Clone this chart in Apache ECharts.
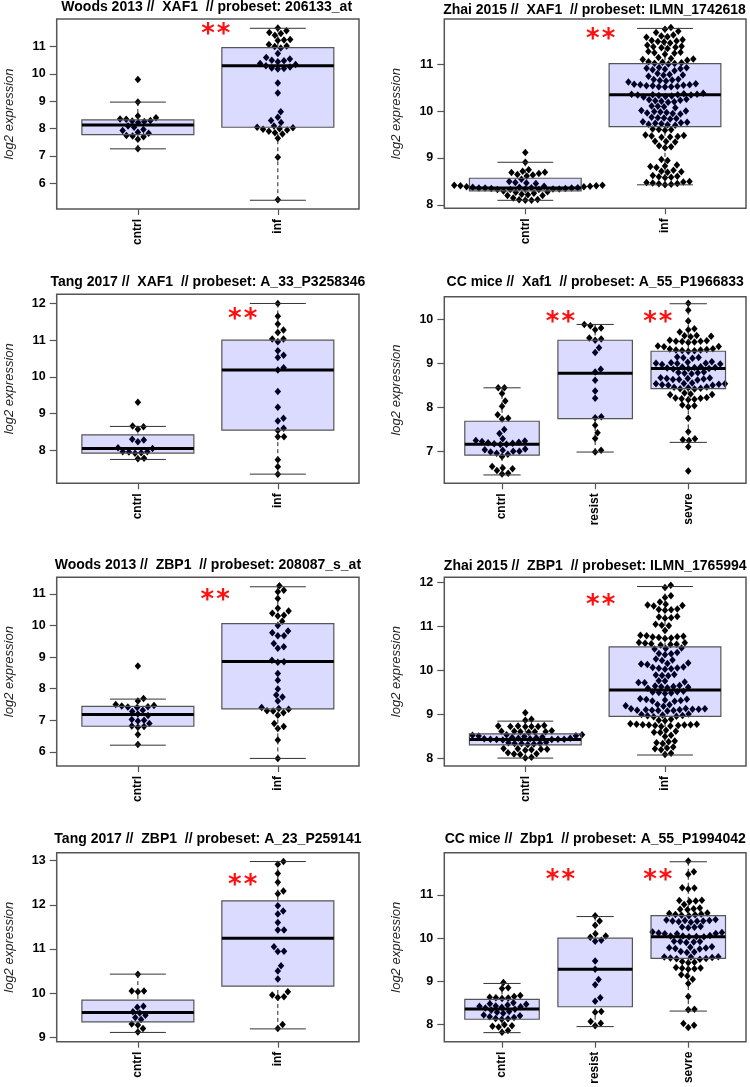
<!DOCTYPE html>
<html><head><meta charset="utf-8">
<script src="https://cdn.jsdelivr.net/npm/echarts@6/dist/echarts.min.js"></script>
<style>html,body{margin:0;padding:0;background:#fff}#c{width:750px;height:1087px}</style>
</head><body><div id="c"></div>
<script>
// ---------------- DATA ----------------
const titles = [
  'Woods 2013 //  XAF1  // probeset: 206133_at',
  'Zhai 2015 //  XAF1  // probeset: ILMN_1742618',
  'Tang 2017 //  XAF1  // probeset: A_33_P3258346',
  'CC mice //  Xaf1  // probeset: A_55_P1966833',
  'Woods 2013 //  ZBP1  // probeset: 208087_s_at',
  'Zhai 2015 //  ZBP1  // probeset: ILMN_1765994',
  'Tang 2017 //  ZBP1  // probeset: A_23_P259141',
  'CC mice //  Zbp1  // probeset: A_55_P1994042'
];
const catsHuman = ['cntrl', 'inf'];
const catsMice = ['cntrl', 'resist', 'sevre'];
const yAxisName = 'log2 expression';
const starText = '**';

// Woods 2013 XAF1
const woodsXaf1Cntrl = [9.80, 8.97, 8.46, 8.40, 8.35, 8.34, 8.30, 8.28, 8.26, 8.22, 8.10, 8.05, 7.97, 7.93, 7.87, 7.83, 7.75, 7.73, 7.70, 7.61, 7.26];
const woodsXaf1Inf = [11.68, 11.58, 11.52, 11.48, 11.42, 11.26, 11.24, 11.22, 11.08, 11.02, 11.00, 10.95, 10.75, 10.60, 10.55, 10.50, 10.48, 10.45, 10.38, 10.35, 10.30, 10.25, 10.22, 10.20, 10.18, 9.67, 9.30, 8.62, 8.42, 8.30, 8.22, 8.10, 8.05, 8.03, 8.00, 7.98, 7.95, 7.90, 7.85, 7.80, 7.65, 6.95, 5.40];
const woodsXaf1Box = [[7.26, 7.78, 8.135, 8.32, 8.97], [5.38, 8.05, 10.30, 10.96, 11.67]];
const woodsXaf1Range = [5.06, 12.01];
const woodsXaf1Ticks = [6, 7, 8, 9, 10, 11];
const woodsXaf1Stars = [[1.557, 11.58]];

// Zhai 2015 XAF1
const zhaiXaf1Cntrl = [9.12, 8.91,
  8.75, 8.72, 8.70, 8.69, 8.67, 8.65, 8.64, 8.62,
  8.55, 8.50, 8.48, 8.47, 8.46,
  8.42, 8.42, 8.41, 8.41, 8.40, 8.40, 8.39, 8.39, 8.38, 8.38, 8.37, 8.37, 8.36, 8.36, 8.36, 8.35, 8.35, 8.34, 8.34, 8.34, 8.33, 8.33, 8.33,
  8.30, 8.28, 8.27, 8.25, 8.23, 8.22, 8.20, 8.20,
  8.15, 8.12, 8.11, 8.10, 8.10];
const zhaiXaf1Inf = [11.78, 11.74, 11.70, 11.67, 11.62, 11.60, 11.58, 11.57,
  11.52, 11.50, 11.49, 11.48, 11.47, 11.45, 11.40, 11.38, 11.37, 11.36, 11.35, 11.33,
  11.27, 11.25, 11.24, 11.23, 11.21, 11.14, 11.12, 11.11, 11.10, 11.08,
  11.05, 11.04, 11.03, 11.02, 11.01, 11.00, 10.93, 10.92, 10.91, 10.90, 10.89, 10.88, 10.86,
  10.80, 10.78, 10.77, 10.76, 10.74, 10.68, 10.67, 10.66, 10.65, 10.64, 10.62,
  10.58, 10.57, 10.56, 10.56, 10.55, 10.54, 10.54, 10.53, 10.52, 10.52, 10.51,
  10.38, 10.37, 10.36, 10.36, 10.35, 10.35, 10.34, 10.34, 10.33, 10.32, 10.31, 10.30,
  10.25, 10.24, 10.23, 10.22, 10.21, 10.20, 10.19, 10.11, 10.10, 10.09, 10.07,
  10.01, 10.00, 9.99, 9.98, 9.97, 9.96, 9.95, 9.94, 9.87, 9.86, 9.85, 9.84, 9.83,
  9.77, 9.76, 9.75, 9.74, 9.73, 9.72, 9.71, 9.70, 9.62, 9.61, 9.60, 9.59,
  9.49, 9.48, 9.47, 9.46, 9.45, 9.44, 9.36, 9.35, 9.34, 9.26, 9.24, 9.22,
  8.97, 8.95, 8.85, 8.83, 8.82, 8.80, 8.74, 8.72, 8.71, 8.70,
  8.63, 8.61, 8.60, 8.59, 8.58, 8.50, 8.49, 8.48, 8.47, 8.46, 8.45, 8.44, 8.43];
const zhaiXaf1Box = [[8.10, 8.30, 8.36, 8.57, 8.91], [8.43, 9.67, 10.35, 11.01, 11.76]];
const zhaiXaf1Range = [7.93, 11.96];
const zhaiXaf1Ticks = [8, 9, 10, 11];
const zhaiXaf1Stars = [[1.54, 11.6]];

// Tang 2017 XAF1
const tangXaf1Cntrl = [9.31, 8.66, 8.64, 8.57, 8.30, 8.28, 8.23, 8.07, 8.05, 7.96, 7.95, 7.96, 7.93, 7.92, 7.78, 7.77];
const tangXaf1Inf = [12.00, 11.65, 11.44, 11.28, 11.21, 11.03, 11.03, 10.96, 10.71, 10.53, 10.59, 10.25, 10.19, 9.60, 9.17, 8.87, 8.80, 8.60, 8.54, 8.37, 8.37, 7.74, 7.55, 7.35];
const tangXaf1Box = [[7.75, 7.92, 8.05, 8.42, 8.65], [7.35, 8.55, 10.19, 11.00, 12.00]];
const tangXaf1Range = [7.10, 12.25];
const tangXaf1Ticks = [8, 9, 10, 11, 12];
const tangXaf1Stars = [[1.749, 11.66]];

// CC mice Xaf1
const ccXaf1Cntrl = [8.44, 8.44, 8.31, 8.14, 8.02, 7.83, 7.75, 7.73, 7.49, 7.40, 7.28, 7.24, 7.23, 7.22, 7.20, 7.19, 7.18, 7.17, 7.16, 7.15, 7.05, 7.03, 7.02, 7.00, 7.00, 6.98, 6.95, 6.93, 6.88, 6.65, 6.62, 6.60, 6.56, 6.50, 6.48];
const ccXaf1Resist = [9.88, 9.85, 9.80, 9.76, 9.57, 9.55, 9.52, 9.35, 9.24, 8.86, 8.80, 8.61, 8.37, 8.20, 7.78, 7.76, 7.59, 7.42, 7.29, 7.02, 6.98];
const ccXaf1Sevre = [10.36, 10.20, 9.96, 9.78, 9.76, 9.71, 9.63, 9.62, 9.61, 9.60,
  9.52, 9.51, 9.50, 9.50, 9.49, 9.48, 9.47, 9.39, 9.38, 9.37,
  9.33, 9.32, 9.31, 9.30, 9.30, 9.29, 9.28, 9.27, 9.14, 9.13, 9.12, 9.11,
  9.03, 9.02, 9.01, 9.00, 9.00, 8.99, 8.98, 8.97, 8.92, 8.91, 8.90, 8.90, 8.89, 8.88, 8.88, 8.87,
  8.80, 8.79, 8.78, 8.77, 8.76, 8.67, 8.66, 8.65, 8.65, 8.64, 8.63, 8.63, 8.62,
  8.55, 8.54, 8.53, 8.53, 8.52, 8.51, 8.50, 8.50, 8.46, 8.45, 8.44, 8.43, 8.42, 8.41,
  8.32, 8.30, 8.29, 8.28, 8.22, 8.21, 8.20, 8.19, 8.18, 8.17, 8.05, 8.03, 8.01,
  7.75, 7.44, 7.28, 7.26, 7.24, 7.10, 6.55];
const ccXaf1Box = [[6.46, 6.91, 7.16, 7.68, 8.44], [6.98, 7.74, 8.77, 9.52, 9.88], [7.20, 8.42, 8.88, 9.27, 10.35]];
const ccXaf1Range = [6.27, 10.51];
const ccXaf1Ticks = [7, 8, 9, 10];
const ccXaf1Stars = [[1.628, 10.0], [2.673, 10.0]];

// Woods 2013 ZBP1
const woodsZbp1Cntrl = [8.72, 7.69, 7.61, 7.50, 7.47, 7.45, 7.43, 7.42, 7.40, 7.32, 7.28, 7.20, 7.15, 7.02, 7.00, 6.98, 6.90, 6.82, 6.80, 6.78, 6.55, 6.23];
const woodsZbp1Inf = [11.26, 11.12, 11.07, 10.86, 10.55, 10.46, 10.39, 10.33, 10.30, 10.14, 10.00, 9.83, 9.77, 9.68, 9.68, 9.43, 9.33, 9.28, 8.90, 8.85, 8.84, 8.48, 8.27, 7.99, 7.80, 7.74, 7.61, 7.40, 7.37, 7.35, 7.30, 7.29, 7.24, 7.16, 6.90, 6.80, 6.74, 6.37, 5.79];
const woodsZbp1Box = [[6.21, 6.81, 7.18, 7.44, 7.67], [5.79, 7.36, 8.86, 10.06, 11.23]];
const woodsZbp1Range = [5.55, 11.53];
const woodsZbp1Ticks = [6, 7, 8, 9, 10, 11];
const woodsZbp1Stars = [[1.552, 10.91]];

// Zhai 2015 ZBP1
const zhaiZbp1Cntrl = [9.03, 8.88, 8.86,
  8.74, 8.73, 8.72, 8.72, 8.71, 8.72, 8.73,
  8.62, 8.61, 8.60, 8.60, 8.59, 8.60, 8.61,
  8.53, 8.53, 8.52, 8.51, 8.50, 8.49, 8.48, 8.47, 8.46, 8.45, 8.45, 8.44, 8.44, 8.43, 8.43, 8.43, 8.42, 8.42, 8.41,
  8.36, 8.35, 8.34, 8.33, 8.33, 8.32, 8.31,
  8.22, 8.21, 8.20, 8.20, 8.19, 8.18,
  8.12, 8.10, 8.09, 8.08, 8.02, 8.00];
const zhaiZbp1Inf = [11.93, 11.88, 11.69, 11.65, 11.55, 11.50, 11.48, 11.47, 11.46, 11.39, 11.38, 11.37, 11.36,
  11.22, 11.21, 11.19, 11.18, 11.04, 11.02, 11.01, 10.90,
  10.79, 10.78, 10.77, 10.76, 10.75, 10.74, 10.73, 10.72, 10.63, 10.62, 10.61, 10.60, 10.59, 10.58, 10.57,
  10.50, 10.49, 10.48, 10.40, 10.38, 10.37, 10.35, 10.25, 10.23, 10.22, 10.16, 10.15, 10.14, 10.13,
  10.07, 10.06, 10.05, 10.04, 10.03, 10.02, 9.90, 9.89, 9.88, 9.87, 9.76, 9.75, 9.73, 9.72, 9.71,
  9.65, 9.64, 9.63, 9.62, 9.61, 9.60, 9.59, 9.52, 9.51, 9.50, 9.49, 9.48, 9.47,
  9.35, 9.34, 9.33, 9.32, 9.31, 9.30, 9.29, 9.22, 9.21, 9.19, 9.18,
  9.13, 9.12, 9.12, 9.11, 9.11, 9.10, 9.10, 9.09, 9.09, 9.08, 9.08, 9.07,
  9.00, 8.99, 8.98, 8.97, 8.96, 8.95, 8.94, 8.88, 8.86, 8.85,
  8.78, 8.77, 8.77, 8.76, 8.76, 8.75, 8.75, 8.74, 8.74, 8.73, 8.72,
  8.63, 8.61, 8.59, 8.58, 8.52, 8.49, 8.39, 8.37, 8.35, 8.33, 8.25, 8.23, 8.21, 8.19, 8.11, 8.08];
const zhaiZbp1Box = [[8.00, 8.30, 8.42, 8.55, 8.84], [8.07, 8.95, 9.55, 10.53, 11.90]];
const zhaiZbp1Range = [7.82, 12.11];
const zhaiZbp1Ticks = [8, 9, 10, 11, 12];
const zhaiZbp1Stars = [[1.54, 11.54]];

// Tang 2017 ZBP1
const tangZbp1Cntrl = [10.43, 10.05, 10.03, 10.05, 9.70, 9.68, 9.58, 9.55, 9.50, 9.45, 9.40, 9.30, 9.28, 9.20, 9.12];
const tangZbp1Inf = [12.98, 12.92, 12.71, 12.51, 12.31, 12.25, 11.98, 11.86, 11.79, 11.60, 11.43, 11.43, 11.05, 10.95, 10.94, 10.62, 10.50, 10.32, 10.03, 9.96, 9.92, 9.90, 9.29, 9.20];
const tangZbp1Box = [[9.11, 9.35, 9.56, 9.84, 10.43], [9.19, 10.16, 11.24, 12.09, 12.98]];
const tangZbp1Range = [8.90, 13.18];
const tangZbp1Ticks = [9, 10, 11, 12, 13];
const tangZbp1Stars = [[1.749, 12.52]];

// CC mice Zbp1
const ccZbp1Cntrl = [8.97, 8.85, 8.83, 8.67, 8.65, 8.63, 8.62, 8.61, 8.60,
  8.50, 8.48, 8.47, 8.45, 8.43, 8.42, 8.41, 8.40, 8.38, 8.35, 8.33, 8.30, 8.28, 8.26,
  8.22, 8.20, 8.18, 8.16, 8.14, 8.13, 8.12, 7.99, 7.97, 7.96, 7.94, 7.86, 7.82];
const ccZbp1Resist = [10.52, 10.40, 10.30, 10.10, 10.05, 10.02, 9.95, 9.93, 9.47, 9.28, 9.04, 8.92, 8.62, 8.54, 8.30, 8.28, 8.07, 8.03, 7.97];
const ccZbp1Sevre = [11.79, 11.54, 11.48, 11.17, 11.16, 11.14, 10.88, 10.87, 10.86, 10.85, 10.78,
  10.70, 10.68, 10.67, 10.66, 10.58, 10.57, 10.56, 10.55, 10.54, 10.53, 10.52,
  10.43, 10.42, 10.41, 10.41, 10.40, 10.40, 10.39, 10.38, 10.37, 10.27, 10.26, 10.25, 10.24,
  10.14, 10.13, 10.12, 10.11, 10.10, 10.10, 10.06, 10.05, 10.05, 10.04, 10.03, 10.03,
  9.93, 9.92, 9.92, 9.91, 9.90, 9.80, 9.79, 9.78, 9.77, 9.76, 9.75, 9.69, 9.68, 9.67,
  9.57, 9.56, 9.56, 9.55, 9.54, 9.53, 9.52, 9.51, 9.46, 9.44, 9.43,
  9.32, 9.31, 9.30, 9.29, 9.28, 9.15, 9.12, 9.05, 8.95, 8.65, 8.35, 8.34, 8.02, 7.98, 7.93];
const ccZbp1Box = [[7.81, 8.12, 8.36, 8.58, 8.95], [7.95, 8.41, 9.28, 10.00, 10.50], [8.31, 9.53, 10.03, 10.52, 11.77]];
const ccZbp1Range = [7.60, 11.98];
const ccZbp1Ticks = [8, 9, 10, 11];
const ccZbp1Stars = [[1.628, 11.42], [2.673, 11.42]];

// ---------------- LAYOUT / STYLE ----------------
const FONT = '"Liberation Sans", Arial, Helvetica, sans-serif';
const SWARM_D = 6.2; // beeswarm spacing in px
const gridRects = [
  [56.7, 19, 302.3, 190], [444.3, 19, 301.7, 189.3],
  [56.7, 294.3, 302.3, 189], [444.3, 296.7, 301.7, 186.6],
  [56.7, 577.3, 302.3, 188.7], [444.3, 577.3, 301.7, 188.7],
  [56.7, 852.7, 302.3, 189], [444.3, 852.7, 301.7, 189]
];
const titleCenters = [[206.7, 7], [594.5, 10], [207.9, 282], [595.2, 282.3], [207.9, 565.3], [595.2, 565.8], [207.9, 839.3], [595.2, 839.3]];

const panels = [
  {cats: catsHuman, groups: [woodsXaf1Cntrl, woodsXaf1Inf], box: woodsXaf1Box, range: woodsXaf1Range, ticks: woodsXaf1Ticks, stars: woodsXaf1Stars},
  {cats: catsHuman, groups: [zhaiXaf1Cntrl, zhaiXaf1Inf], box: zhaiXaf1Box, range: zhaiXaf1Range, ticks: zhaiXaf1Ticks, stars: zhaiXaf1Stars},
  {cats: catsHuman, groups: [tangXaf1Cntrl, tangXaf1Inf], box: tangXaf1Box, range: tangXaf1Range, ticks: tangXaf1Ticks, stars: tangXaf1Stars},
  {cats: catsMice, groups: [ccXaf1Cntrl, ccXaf1Resist, ccXaf1Sevre], box: ccXaf1Box, range: ccXaf1Range, ticks: ccXaf1Ticks, stars: ccXaf1Stars},
  {cats: catsHuman, groups: [woodsZbp1Cntrl, woodsZbp1Inf], box: woodsZbp1Box, range: woodsZbp1Range, ticks: woodsZbp1Ticks, stars: woodsZbp1Stars},
  {cats: catsHuman, groups: [zhaiZbp1Cntrl, zhaiZbp1Inf], box: zhaiZbp1Box, range: zhaiZbp1Range, ticks: zhaiZbp1Ticks, stars: zhaiZbp1Stars},
  {cats: catsHuman, groups: [tangZbp1Cntrl, tangZbp1Inf], box: tangZbp1Box, range: tangZbp1Range, ticks: tangZbp1Ticks, stars: tangZbp1Stars},
  {cats: catsMice, groups: [ccZbp1Cntrl, ccZbp1Resist, ccZbp1Sevre], box: ccZbp1Box, range: ccZbp1Range, ticks: ccZbp1Ticks, stars: ccZbp1Stars}
];

function renderBox(params, api) {
  const x = api.value(0);
  const p = [1, 2, 3, 4, 5].map(k => api.coord([x, api.value(k)]));
  const cx = p[0][0];
  const hw = api.coord([x + 0.4, api.value(1)])[0] - cx;
  const cw = hw * 0.5;
  const dash = {stroke: '#222', lineWidth: 1, lineDash: [4, 3]};
  const solid = {stroke: '#333', lineWidth: 1};
  return {type: 'group', children: [
    {type: 'line', shape: {x1: cx, y1: p[0][1], x2: cx, y2: p[1][1]}, style: dash},
    {type: 'line', shape: {x1: cx, y1: p[4][1], x2: cx, y2: p[3][1]}, style: dash},
    {type: 'line', shape: {x1: cx - cw, y1: p[0][1], x2: cx + cw, y2: p[0][1]}, style: solid},
    {type: 'line', shape: {x1: cx - cw, y1: p[4][1], x2: cx + cw, y2: p[4][1]}, style: solid},
    {type: 'rect', shape: {x: cx - hw, y: p[3][1], width: 2 * hw, height: p[1][1] - p[3][1]},
      style: {fill: 'rgba(0,0,255,0.14)', stroke: '#555', lineWidth: 1.2}},
    {type: 'line', shape: {x1: cx - hw, y1: p[2][1], x2: cx + hw, y2: p[2][1]}, style: {stroke: '#000', lineWidth: 3}}
  ]};
}
function renderStar(params, api) {
  const c = api.coord([api.value(0), api.value(1)]);
  return {type: 'text', x: c[0], y: c[1] + 4,
    style: {text: starText, fill: '#ff1010', font: 'bold 26px "DejaVu Sans Mono"', align: 'center', verticalAlign: 'middle'}};
}

const option = {
  animation: false,
  backgroundColor: '#fff',
  title: [], grid: [], xAxis: [], yAxis: [], series: []
};
panels.forEach((pn, g) => {
  const n = pn.cats.length;
  const r = gridRects[g];
  option.title.push({text: titles[g], left: titleCenters[g][0], top: titleCenters[g][1], padding: 0,
    textAlign: 'center', textVerticalAlign: 'middle',
    textStyle: {fontSize: 14, fontWeight: 'bold', color: '#000', fontFamily: FONT}});
  option.grid.push({left: r[0], top: r[1], width: r[2], height: r[3], show: true,
    borderColor: '#555', borderWidth: 1.5, backgroundColor: 'transparent'});
  const xs = pn.cats.map((c, i) => i + 1);
  option.xAxis.push({gridIndex: g, type: 'value', min: 0.5 - 0.04 * n, max: n + 0.5 + 0.04 * n,
    axisLine: {show: false, onZero: false}, splitLine: {show: false},
    axisTick: {show: true, customValues: xs, length: 6, lineStyle: {color: '#555', width: 1.2}},
    axisLabel: {customValues: xs, formatter: v => pn.cats[Math.round(v) - 1], rotate: 90, margin: 10,
      fontSize: 12, fontWeight: 'bold', color: '#000', fontFamily: FONT}});
  option.yAxis.push({gridIndex: g, type: 'value', min: pn.range[0], max: pn.range[1],
    axisLine: {show: false, onZero: false}, splitLine: {show: false},
    axisTick: {show: true, customValues: pn.ticks, length: 7, lineStyle: {color: '#555', width: 1.2}},
    axisLabel: {customValues: pn.ticks, margin: 11, fontSize: 12.5, fontWeight: 'bold', color: '#000', fontFamily: FONT},
    name: yAxisName, nameLocation: 'middle', nameGap: 41,
    nameTextStyle: {fontSize: 13, fontStyle: 'italic', color: '#222', fontFamily: FONT}});
  option.series.push({id: 'pts' + g, type: 'scatter', xAxisIndex: g, yAxisIndex: g, symbol: 'diamond',
    symbolSize: [6.5, 7.5], itemStyle: {color: '#000', opacity: 1}, silent: true, z: 2, data: []});
  option.series.push({type: 'custom', xAxisIndex: g, yAxisIndex: g, renderItem: renderBox, z: 3, silent: true,
    encode: {x: 0, y: [1, 2, 3, 4, 5]},
    data: pn.box.map((b, i) => [i + 1].concat(b))});
  option.series.push({type: 'custom', xAxisIndex: g, yAxisIndex: g, renderItem: renderStar, z: 4, silent: true,
    encode: {x: 0, y: 1}, data: pn.stars});
});

const chart = echarts.init(document.getElementById('c'));
chart.setOption(option);

// beeswarm "swarm" placement (ascending priority), computed in pixel space
function swarm(vals, py, d) {
  const order = vals.map((v, i) => i).sort((a, b) => vals[a] - vals[b]);
  const placed = [];
  const out = new Array(vals.length);
  order.forEach(i => {
    const yi = py[i];
    let near = placed.filter(p => Math.abs(yi - p.y) < d);
    let x = 0;
    if (near.length) {
      near = near.slice().sort((a, b) => Math.abs(a.x) - Math.abs(b.x));
      const cands = [0];
      near.forEach(p => cands.push(p.x + Math.sqrt(d * d - (yi - p.y) * (yi - p.y))));
      near.forEach(p => cands.push(p.x - Math.sqrt(d * d - (yi - p.y) * (yi - p.y))));
      let best = Infinity;
      cands.forEach(c => {
        const bad = near.some(p => (yi - p.y) * (yi - p.y) + (c - p.x) * (c - p.x) < 0.999 * d * d);
        if (!bad && Math.abs(c) < Math.abs(best)) best = c;
      });
      x = best;
    }
    placed.push({y: yi, x: x});
    out[i] = x;
  });
  return out;
}
const updates = [];
panels.forEach((pn, g) => {
  const f = {xAxisIndex: g, yAxisIndex: g};
  const pxPerX = chart.convertToPixel(f, [2, pn.range[0]])[0] - chart.convertToPixel(f, [1, pn.range[0]])[0];
  const pts = [];
  pn.groups.forEach((vals, i) => {
    const py = vals.map(v => chart.convertToPixel(f, [i + 1, v])[1]);
    const off = swarm(vals, py, SWARM_D);
    vals.forEach((v, k) => pts.push([i + 1 + off[k] / pxPerX, v]));
  });
  updates.push({id: 'pts' + g, data: pts});
});
chart.setOption({series: updates});
</script></body></html>
